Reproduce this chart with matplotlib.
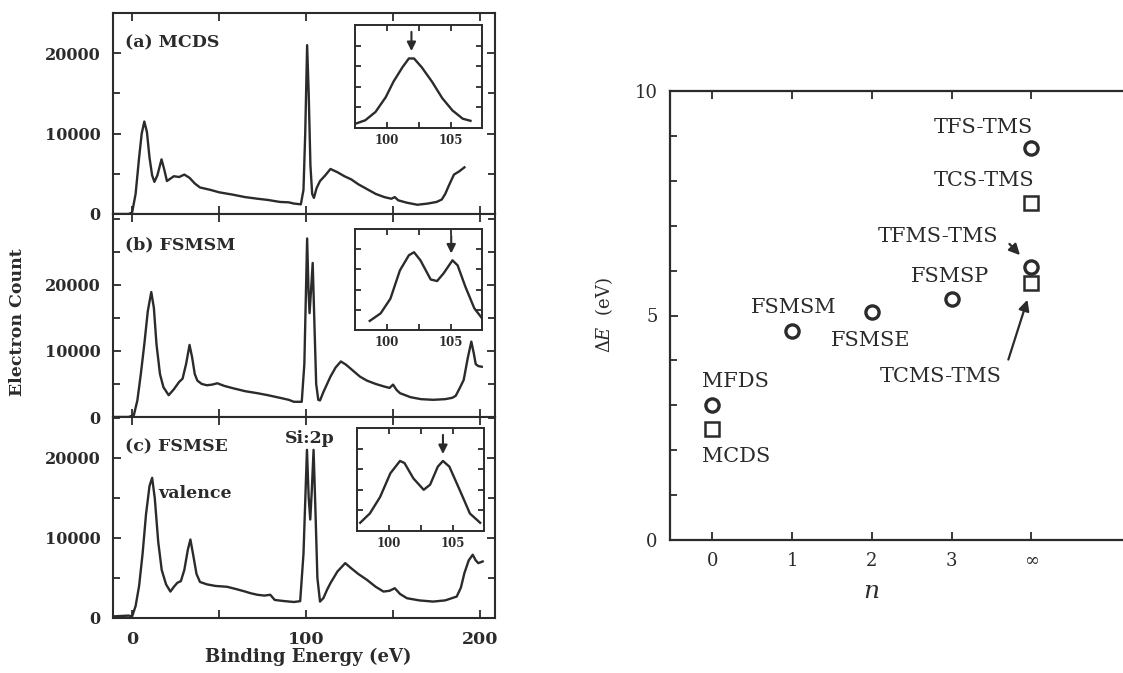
import numpy as np
import matplotlib
matplotlib.use("Agg")
import matplotlib.pyplot as plt
from matplotlib.ticker import MultipleLocator

# --- Veriler ---
# (a) MCDS ana spektrum: bağlanma enerjisi (eV), elektron sayısı
mcds_x = [-11, -2, 0, 2, 4, 5.5, 7, 8.5, 10, 11.5, 12.8, 14.5, 16.9, 18.5, 20, 22, 24, 27, 30, 33, 36, 39,
          45, 50, 58, 65, 72, 78, 85, 90, 93, 97, 98.5, 99.5, 100.6, 101.5, 102.5, 103.5, 104.5, 106, 108,
          111, 114, 118, 122, 126, 130, 135, 140, 145, 149, 151, 153, 158, 164, 170, 175, 178, 180, 182,
          185, 188, 191]
mcds_y = [0, 0, 200, 2500, 7000, 10000, 11500, 10200, 7000, 4800, 4000, 4800, 6800, 5500, 4100, 4400, 4700,
          4600, 4900, 4500, 3800, 3300, 3000, 2700, 2400, 2100, 1900, 1750, 1500, 1450, 1300, 1200, 3000,
          10000, 21000, 15000, 6000, 2500, 2000, 3200, 4100, 4800, 5600, 5200, 4700, 4300, 3700, 3100, 2500,
          2100, 1900, 2100, 1700, 1400, 1150, 1300, 1500, 1800, 2500, 3500, 4900, 5300, 5800]

# (b) FSMSM
fsmsm_x = [-11, -2, 1, 3, 5, 7, 9, 11, 12.5, 14, 16, 18, 21, 24, 27, 29, 31, 33, 34.5, 36, 37.5, 40, 43, 46,
           49, 53, 58, 65, 72, 78, 85, 90, 93, 97.5, 99, 100.6, 101.4, 102, 102.8, 103.8, 104.8, 105.8, 107,
           108, 110, 114, 117, 120, 123, 127, 131, 135, 140, 145, 148, 150, 152, 154, 160, 166, 173, 180,
           184, 186, 188, 190.6, 193, 195, 196.5, 197.5, 199, 201]
fsmsm_y = [0, 0, 300, 2500, 6500, 11000, 16000, 18900, 16500, 11000, 6500, 4500, 3300, 4200, 5300, 5800,
           8000, 10900, 9000, 6500, 5500, 5000, 4800, 4900, 5100, 4700, 4350, 3900, 3600, 3300, 2900, 2600,
           2300, 2300, 8000, 27000, 19000, 15700, 19000, 23300, 14000, 5000, 2600, 2500, 3800, 6100, 7500,
           8400, 7900, 7000, 6100, 5500, 5000, 4600, 4400, 4900, 4100, 3600, 3000, 2700, 2600, 2700, 2900,
           3200, 4200, 5600, 9000, 11400, 9500, 8000, 7700, 7600]

# (c) FSMSE
fsmse_x = [-11, -2, 0, 2, 4, 6, 8, 10, 11.5, 13, 15, 17, 19.5, 22, 24, 26, 28, 30, 32, 33.5, 35, 37, 39, 43,
           48, 54.5, 60, 65, 68, 72, 76, 79.4, 82, 88, 93, 96.6, 98.5, 100.5, 101.5, 102.4, 103.3, 104.3,
           105.3, 106.5, 108, 110, 112, 114, 118, 122.5, 126, 130, 135, 140, 144.5, 148, 151, 154, 158, 165,
           173, 180, 186.6, 189, 191, 193.5, 195.8, 197.5, 199, 201.5]
fsmse_y = [200, 300, 200, 1500, 4000, 8000, 13000, 16500, 17500, 15000, 9500, 6000, 4200, 3300, 3900, 4400,
           4600, 6000, 8500, 9800, 8000, 5500, 4500, 4200, 4000, 3900, 3600, 3300, 3100, 2900, 2800, 2900,
           2250, 2100, 2000, 2100, 8000, 21000, 15000, 12300, 16000, 21000, 14000, 5000, 2050, 2500, 3500,
           4350, 5800, 6850, 6200, 5500, 4760, 3900, 3300, 3400, 3720, 3000, 2470, 2200, 2050, 2200, 2680,
           3800, 5600, 7200, 7900, 7200, 6850, 7060]

# Si:2p bölgesi (iç grafikler), normalize yoğunluk
ins_a_x = [97.5, 98.3, 99.1, 99.9, 100.5, 101.2, 101.7, 102.1, 102.7, 103.5, 104.3, 105.1, 105.9, 106.5]
ins_a_y = [0.04, 0.075, 0.156, 0.30, 0.45, 0.59, 0.675, 0.675, 0.59, 0.45, 0.29, 0.17, 0.09, 0.07]
ins_b_x = [98.65, 99.5, 100.26, 101.0, 101.7, 102.1, 102.6, 103.4, 103.9, 104.4, 105.1, 105.5, 106.1, 106.8, 107.5]
ins_b_y = [0.09, 0.165, 0.31, 0.59, 0.74, 0.77, 0.69, 0.50, 0.485, 0.56, 0.69, 0.64, 0.43, 0.215, 0.10]
ins_c_x = [97.75, 98.5, 99.3, 100.1, 100.85, 101.2, 101.9, 102.7, 103.2, 103.8, 104.2, 104.7, 105.5, 106.3, 107.1]
ins_c_y = [0.08, 0.17, 0.33, 0.56, 0.68, 0.66, 0.51, 0.40, 0.45, 0.625, 0.68, 0.625, 0.40, 0.17, 0.08]
ins_arrow_x = [101.9, 105.0, 104.2]
ins_arrow_y = [0.69, 0.70, 0.69]

panel_labels = ['(a) MCDS', '(b) FSMSM', '(c) FSMSE']

# Sağ grafik: n ve ΔE (eV)
circ_n = [0, 1, 2, 3, 4, 4]
circ_dE = [3.0, 4.65, 5.08, 5.37, 8.73, 6.08]
sq_n = [0, 4, 4]
sq_dE = [2.47, 7.5, 5.72]
n_ticks = [0, 1, 2, 3, 4]
n_ticklabels = ['0', '1', '2', '3', '∞']

INK = '#2b2b2b'
plt.rcParams['font.family'] = ['DejaVu Serif']
plt.rcParams['mathtext.fontset'] = 'dejavuserif'


def style_axes(ax, lw=1.5):
    for s in ax.spines.values():
        s.set_linewidth(lw)
        s.set_color(INK)
    ax.tick_params(which='both', direction='in', top=True, right=True, color=INK,
                   width=1.3, labelcolor=INK)


fig = plt.figure(figsize=(11.23, 6.73), dpi=100)

W, H = 1123.0, 673.0
panels = [
    (mcds_x, mcds_y, 13, 214, 25000, (355, 25, 482, 128), ins_a_x, ins_a_y),
    (fsmsm_x, fsmsm_y, 214, 417, 30700, (355, 229, 482, 330), ins_b_x, ins_b_y),
    (fsmse_x, fsmse_y, 417, 618, 25100, (357, 428, 484, 531), ins_c_x, ins_c_y),
]

for i, (xs, ys, top, bot, ymax, ins, ix, iy) in enumerate(panels):
    ax = fig.add_axes([113 / W, 1 - bot / H, 382 / W, (bot - top) / H])
    ax.plot(xs, ys, color=INK, lw=1.7)
    ax.set_xlim(-11, 208.6)
    ax.set_ylim(0, ymax)
    ax.xaxis.set_major_locator(MultipleLocator(50))
    ax.set_yticks([0, 10000, 20000])
    ax.yaxis.set_minor_locator(MultipleLocator(5000))
    style_axes(ax)
    ax.tick_params(which='major', length=6)
    ax.tick_params(which='minor', length=5)
    ax.tick_params(axis='y', pad=9, labelsize=11.5)
    for lab in ax.get_yticklabels():
        lab.set_fontweight('bold')
    if i < 2:
        ax.tick_params(axis='x', labelbottom=False)
    else:
        ax.set_xticks([0, 50, 100, 150, 200])
        ax.set_xticklabels(['0', '', '100', '', '200'])
        ax.tick_params(axis='x', pad=9, labelsize=12.5)
        for lab in ax.get_xticklabels():
            lab.set_fontweight('bold')
        ax.set_xlabel('Binding Energy (eV)', fontsize=13, fontweight='bold', color=INK)
        ax.xaxis.set_label_coords((308 - 113) / 382, -0.15)
        ax.text(0.45, 0.895, 'Si:2p', transform=ax.transAxes, fontsize=12.5,
                fontweight='bold', color=INK, ha='left', va='center')
        ax.text(0.118, 0.62, 'valence', transform=ax.transAxes, fontsize=12.5,
                fontweight='bold', color=INK, ha='left', va='center')
    ax.text(0.032, 0.85, panel_labels[i], transform=ax.transAxes, fontsize=12.5,
            fontweight='bold', color=INK, ha='left', va='center')

    # iç grafik
    x0, y0, x1, y1 = ins
    iax = fig.add_axes([x0 / W, 1 - y1 / H, (x1 - x0) / W, (y1 - y0) / H])
    iax.plot(ix, iy, color=INK, lw=1.7)
    iax.set_xlim(97.5, 107.4)
    iax.set_ylim(0, 1)
    iax.set_xticks([100, 102.5, 105])
    iax.set_xticklabels(['100', '', '105'])
    iax.set_yticks([0.2, 0.4, 0.6, 0.8])
    iax.set_yticklabels([])
    style_axes(iax, lw=1.4)
    iax.tick_params(length=4, labelsize=8.5, pad=4)
    for lab in iax.get_xticklabels():
        lab.set_fontweight('bold')
    iax.annotate('', xy=(ins_arrow_x[i], ins_arrow_y[i] + 0.03),
                 xytext=(ins_arrow_x[i], 0.96),
                 arrowprops=dict(arrowstyle='-|>', color=INK, lw=1.5, mutation_scale=13))

fig.text(18 / W, 1 - 322 / H, 'Electron Count', rotation=90, ha='center', va='center',
         fontsize=12.5, fontweight='bold', color=INK)

# --- Sağ grafik ---
rax = fig.add_axes([670 / W, 1 - 540 / H, 462 / W, 449 / H])
rax.plot(circ_n, circ_dE, linestyle='none', marker='o', ms=9.5, mfc='none',
         mec=INK, mew=2.4)
rax.plot(sq_n, sq_dE, linestyle='none', marker='s', ms=10.5, mfc='none',
         mec=INK, mew=1.8)
rax.set_xlim(-0.53, 5.26)
rax.set_ylim(0, 10)
rax.set_xticks(n_ticks)
rax.set_xticklabels(n_ticklabels)
rax.set_yticks([0, 5, 10])
rax.yaxis.set_minor_locator(MultipleLocator(1))
style_axes(rax, lw=1.6)
rax.tick_params(which='major', length=6)
rax.tick_params(which='minor', length=5)
rax.tick_params(axis='both', labelsize=13, pad=9)
rax.set_xlabel(r'$n$', fontsize=18, color=INK)
rax.xaxis.set_label_coords((871 - 670) / 462, -0.09)
rax.set_ylabel(r'$\mathit{\Delta E}$  (eV)', fontsize=13, color=INK, labelpad=14)

lab_kw = dict(fontsize=15, color=INK, ha='center', va='center')
rax.text(3.40, 9.18, 'TFS-TMS', **lab_kw)
rax.text(3.40, 8.00, 'TCS-TMS', **lab_kw)
rax.text(2.98, 5.86, 'FSMSP', **lab_kw)
rax.text(1.015, 5.17, 'FSMSM', **lab_kw)
rax.text(1.98, 4.45, 'FSMSE', **lab_kw)
rax.text(0.29, 3.52, 'MFDS', **lab_kw)
rax.text(0.30, 1.85, 'MCDS', **lab_kw)
rax.text(2.83, 6.77, 'TFMS-TMS', **lab_kw)
rax.text(2.86, 3.65, 'TCMS-TMS', **lab_kw)
arrow_kw = dict(arrowstyle='-|>', color=INK, lw=1.6, mutation_scale=16)
rax.annotate('', xy=(3.88, 6.30), xytext=(3.70, 6.64), arrowprops=arrow_kw)
rax.annotate('', xy=(3.96, 5.41), xytext=(3.70, 3.96), arrowprops=arrow_kw)

fig.savefig('out.png', dpi=100, facecolor='white')
